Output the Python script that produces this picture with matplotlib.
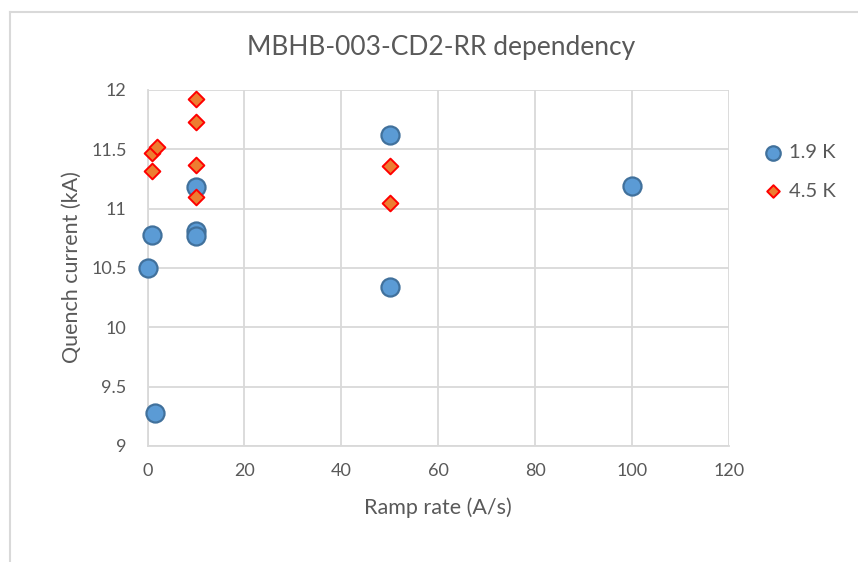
import matplotlib
matplotlib.use("Agg")
import matplotlib.pyplot as plt
from matplotlib.lines import Line2D

plt.rcParams['font.family'] = ['Lato', 'DejaVu Sans']

# Data
rate_19K = [0.2, 1, 1.5, 10, 10, 10, 50, 50, 100]
iq_19K = [10.50, 10.78, 9.28, 11.18, 10.81, 10.77, 11.62, 10.34, 11.19]
rate_45K = [1, 2, 1, 10, 10, 10, 10, 50, 50]
iq_45K = [11.47, 11.52, 11.32, 11.92, 11.73, 11.37, 11.10, 11.36, 11.05]
series_labels = ['1.9 K', '4.5 K']
x_ticks = [0, 20, 40, 60, 80, 100, 120]
y_ticks = [9, 9.5, 10, 10.5, 11, 11.5, 12]

TXT = '#595959'
GRID = '#D9D9D9'

fig = plt.figure(figsize=(8.58, 5.62), dpi=100)
ax = fig.add_axes([147.5 / 858, 1 - 446 / 562, (729 - 147.5) / 858, (446 - 90) / 562])

ax.scatter(rate_19K, iq_19K, s=13**2, marker='o', facecolor='#5B9BD5',
           edgecolor='#41719C', linewidths=1.6, zorder=3, label=series_labels[0],
           clip_on=False)
ax.scatter(rate_45K, iq_45K, s=8**2, marker='D', facecolor='#ED7D31',
           edgecolor='#FF0000', linewidths=1.4, zorder=4, label=series_labels[1],
           clip_on=False)

ax.set_xlim(0, 120)
ax.set_ylim(9, 12)
ax.set_xticks(x_ticks)
ax.set_yticks(y_ticks)
ax.set_xticklabels([str(v) for v in x_ticks])
ax.set_yticklabels(['9', '9.5', '10', '10.5', '11', '11.5', '12'])
ax.tick_params(length=0, labelsize=13, labelcolor=TXT)
ax.tick_params(axis='x', pad=12)
ax.tick_params(axis='y', pad=15)
ax.grid(True, color=GRID, linewidth=1.3, zorder=0)
ax.set_axisbelow(True)
for side in ['top', 'right']:
    ax.spines[side].set_visible(False)
for side in ['left', 'bottom']:
    ax.spines[side].set_color(GRID)
    ax.spines[side].set_linewidth(1.3)

ax.set_xlabel('Ramp rate (A/s)', fontsize=15.5, color=TXT)
ax.set_ylabel('Quench current (kA)', fontsize=15.5, color=TXT)
ax.xaxis.label.set_va('center')
ax.yaxis.label.set_va('center')
ax.xaxis.set_label_coords(438 / 858, 1 - 508 / 562, transform=fig.transFigure)
ax.yaxis.set_label_coords(71.5 / 858, 1 - 267 / 562, transform=fig.transFigure)

fig.text(441 / 858, 1 - 47 / 562, 'MBHB-003-CD2-RR dependency', fontsize=19,
         color=TXT, ha='center', va='center')

leg = ax.legend(loc='center left', bbox_to_anchor=(763 / 858, 1 - 172 / 562),
                bbox_transform=fig.transFigure, frameon=False, fontsize=14.5,
                labelcolor=TXT, handlelength=1.0, handletextpad=0.3,
                labelspacing=1.05, borderpad=0, scatterpoints=1,
                markerscale=0.8, borderaxespad=0)

# chart-area border (top and left edges visible in reference)
fig.add_artist(Line2D([9.5 / 858, 9.5 / 858], [0, 1 - 12 / 562], color=GRID,
                      linewidth=1.5, transform=fig.transFigure))
fig.add_artist(Line2D([9.5 / 858, 1], [1 - 12 / 562, 1 - 12 / 562], color=GRID,
                      linewidth=1.5, transform=fig.transFigure))

fig.savefig('out.png', dpi=100)
